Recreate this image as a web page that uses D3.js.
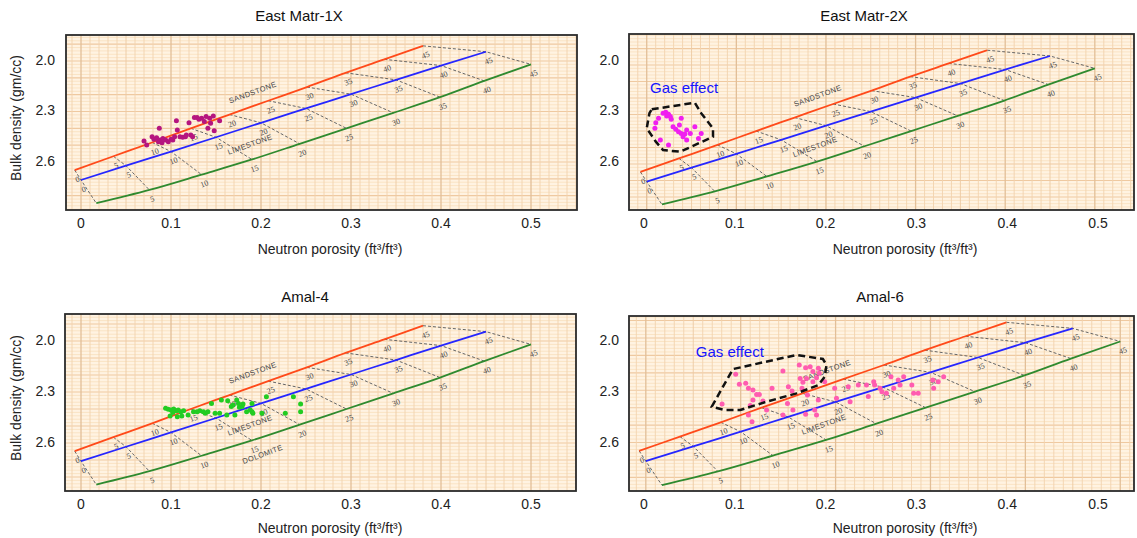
<!DOCTYPE html>
<html><head><meta charset="utf-8">
<script src="https://cdn.jsdelivr.net/npm/d3@7"></script>
<style>body{margin:0;background:#fff;} svg{display:block;} text{font-family:"Liberation Sans",Arial,sans-serif;}</style>
</head><body>
<svg id="c" width="1137" height="538"></svg>
<script>
// ---------- data ----------
const titles = ["East Matr-1X", "East Matr-2X", "Amal-4", "Amal-6"];
const xTicks = [0, 0.1, 0.2, 0.3, 0.4, 0.5];
const yTicks = [2.0, 2.3, 2.6];
const xTitle = "Neutron porosity (ft³/ft³)";
const yTitle = "Bulk density (gm/cc)";
const porosity = [0, 5, 10, 15, 20, 25, 30, 35, 40, 45];

// lithology lines of the crossplot chart (neutron, bulk density) at each porosity
const sandN   = [-0.007, 0.036, 0.079, 0.122, 0.165, 0.208, 0.251, 0.294, 0.337, 0.380];
const sandRho = [2.648, 2.566, 2.484, 2.400, 2.318, 2.236, 2.155, 2.070, 1.990, 1.910];
const limeN   = [0.000, 0.050, 0.100, 0.150, 0.200, 0.250, 0.300, 0.350, 0.400, 0.450];
const limeRho = [2.707, 2.622, 2.538, 2.453, 2.367, 2.282, 2.197, 2.112, 2.027, 1.945];
const doloN   = [0.017, 0.076, 0.134, 0.190, 0.243, 0.295, 0.347, 0.399, 0.448, 0.500];
const doloRho = [2.845, 2.766, 2.675, 2.585, 2.492, 2.400, 2.308, 2.215, 2.118, 2.020];
const lithoNames = ["SANDSTONE", "LIMESTONE", "DOLOMITE"];
const lithoNameN = [0.191, 0.188, 0.202];
const lithoNameRho = [2.19, 2.499, 2.67];

// well data (neutron porosity, bulk density)
const p1N = [0.070,0.073,0.079,0.081,0.084,0.087,0.088,0.090,0.091,0.094,0.097,0.100,0.102,0.104,0.106,0.107,0.110,0.113,0.116,0.117,0.120,0.122,0.124,0.126,0.129,0.131,0.134,0.137,0.139,0.141,0.143,0.144,0.147,0.148,0.154,0.086];
const p1D = [2.475,2.499,2.450,2.465,2.456,2.400,2.469,2.485,2.460,2.469,2.480,2.465,2.469,2.450,2.355,2.410,2.450,2.453,2.450,2.440,2.367,2.440,2.450,2.335,2.335,2.346,2.340,2.360,2.330,2.400,2.340,2.370,2.327,2.414,2.355,2.480];

const p2N = [0.021,0.024,0.027,0.025,0.016,0.013,0.030,0.041,0.012,0.032,0.035,0.039,0.038,0.041,0.043,0.045,0.047,0.051,0.056,0.063,0.060,0.018,0.047,0.027,0.029];
const p2D = [2.311,2.305,2.317,2.327,2.340,2.367,2.346,2.340,2.400,2.390,2.406,2.380,2.420,2.430,2.450,2.434,2.410,2.430,2.390,2.430,2.460,2.469,2.469,2.499,2.330];

const p3N = [0.094,0.097,0.100,0.103,0.106,0.108,0.102,0.111,0.114,0.099,0.107,0.112,0.119,0.125,0.129,0.132,0.136,0.138,0.141,0.145,0.149,0.154,0.156,0.162,0.163,0.167,0.169,0.171,0.173,0.175,0.176,0.179,0.180,0.184,0.188,0.190,0.190,0.191,0.201,0.206,0.236,0.227,0.244,0.244];
const p3D = [2.396,2.402,2.406,2.400,2.410,2.406,2.420,2.416,2.410,2.441,2.445,2.441,2.435,2.416,2.416,2.410,2.416,2.425,2.416,2.367,2.425,2.425,2.347,2.435,2.351,2.386,2.376,2.435,2.347,2.367,2.390,2.386,2.370,2.416,2.406,2.367,2.416,2.425,2.425,2.328,2.328,2.425,2.370,2.416];

const p4N = [0.086,0.101,0.105,0.112,0.115,0.120,0.124,0.127,0.120,0.117,0.115,0.119,0.131,0.135,0.141,0.153,0.159,0.163,0.158,0.153,0.164,0.171,0.172,0.174,0.175,0.178,0.179,0.180,0.183,0.186,0.186,0.190,0.192,0.193,0.178,0.188,0.190,0.192,0.199,0.210,0.212,0.225,0.227,0.236,0.245,0.247,0.253,0.254,0.260,0.262,0.267,0.272,0.275,0.280,0.282,0.286,0.295,0.297,0.302,0.318,0.319,0.324,0.330];
const p4D = [2.371,2.196,2.255,2.249,2.278,2.288,2.314,2.314,2.347,2.380,2.435,2.475,2.353,2.406,2.278,2.176,2.269,2.294,2.367,2.435,2.406,2.141,2.220,2.278,2.243,2.157,2.220,2.318,2.151,2.180,2.239,2.216,2.161,2.190,2.431,2.406,2.435,2.347,2.239,2.278,2.337,2.269,2.357,2.259,2.259,2.327,2.239,2.259,2.278,2.298,2.308,2.210,2.278,2.229,2.259,2.210,2.259,2.308,2.308,2.229,2.278,2.239,2.210];

// gas-effect outlines
const gas2N = [0.0085,0.056,0.063,0.076,0.076,0.040,0.021,0.013,0.003,0.006];
const gas2D = [2.287,2.248,2.310,2.400,2.450,2.539,2.529,2.479,2.400,2.310];
const gas4N = [0.0746,0.098,0.168,0.197,0.201,0.199,0.192,0.168,0.135,0.106,0.089];
const gas4D = [2.386,2.165,2.082,2.106,2.141,2.210,2.259,2.308,2.357,2.406,2.406];
const gasLabel = "Gas effect";

// ---------- layout / style ----------
const layout = [
  {frame:[66,35,577,210], xr:[81,531], yr:[61,162], ox:[0,1], oy:[2.71,1], tx:299, ty:17, xtx:330, xty:250, xtickY:224, ylabX:55, yTitleY:118,
   pts:[p1N,p1D], col:"#b5157f", names:[0,1]},
  {frame:[629,34,1134,210], xr:[644,1098], yr:[61,162], ox:[0.003,0.987], oy:[2.72,0.98], tx:864, ty:17, xtx:905, xty:250, xtickY:224, ylabX:619,
   pts:[p2N,p2D], col:"#f01ff0", names:[0,1], gas:[gas2N,gas2D], gasText:[0.0066,2.166]},
  {frame:[65,314,576,491], xr:[81,531], yr:[341,443], ox:[0,1], oy:[2.71,1], tx:305, ty:298, xtx:330, xty:529, xtickY:505, ylabX:55, yTitleY:398,
   pts:[p3N,p3D], col:"#22cc22", names:[0,1,2]},
  {frame:[629,316,1134,491], xr:[644,1098], yr:[341,443], ox:[0.002,1.045], oy:[2.71,1.025], tx:880, ty:298, xtx:905, xty:529, xtickY:505, ylabX:619,
   pts:[p4N,p4D], col:"#ff5cb0", names:[0,1], gas:[gas4N,gas4D], gasText:[0.057,2.07]}
];

const svg = d3.select("#c");
const ANG = -20;

layout.forEach((L, i) => {
  const [fx0, fy0, fx1, fy1] = L.frame;
  const x = d3.scaleLinear().domain([0, 0.5]).range(L.xr);
  const y = d3.scaleLinear().domain([2.0, 2.6]).range(L.yr);
  // chart-overlay scales (the printed chart may be slightly stretched vs. axes)
  const [a, b] = L.ox;
  const ox = d3.scaleLinear().domain([(0 - a) / b, (0.5 - a) / b]).range(L.xr);
  const [c, k] = L.oy;
  const oy = d3.scaleLinear().domain([2.71 + (2.0 - c) / k, 2.71 + (2.6 - c) / k]).range(L.yr);

  const g = svg.append("g");
  const clipId = "clip" + i;
  g.append("clipPath").attr("id", clipId).append("rect")
    .attr("x", fx0).attr("y", fy0).attr("width", fx1 - fx0).attr("height", fy1 - fy0);
  const pg = g.append("g").attr("clip-path", `url(#${clipId})`);

  pg.append("rect").attr("x", fx0).attr("y", fy0).attr("width", fx1 - fx0).attr("height", fy1 - fy0)
    .attr("fill", "#fff3e2");

  // grid
  d3.range(170, 301, 2).forEach(v => {
    const r = v / 100, major = v % 10 === 0;
    pg.append("line").attr("x1", fx0).attr("x2", fx1).attr("y1", oy(r)).attr("y2", oy(r))
      .attr("stroke", major ? "#efc9a0" : "#f8dcb8").attr("stroke-width", major ? 1.1 : 0.7);
  });
  d3.range(-5, 61, 1).forEach(v => {
    const n = v / 100, major = v % 10 === 0, mid = v % 5 === 0;
    pg.append("line").attr("y1", fy0).attr("y2", fy1).attr("x1", ox(n)).attr("x2", ox(n))
      .attr("stroke", major ? "#e2bf98" : (mid ? "#eccaa3" : "#f2d3ae")).attr("stroke-width", major ? 1.3 : 0.9);
  });

  // porosity connectors
  const line = d3.line().x(d => ox(d[0])).y(d => oy(d[1]));
  porosity.forEach((p, j) => {
    pg.append("path").attr("d", line([[sandN[j], sandRho[j]], [limeN[j], limeRho[j]], [doloN[j], doloRho[j]]]))
      .attr("fill", "none").attr("stroke", "#666").attr("stroke-width", 1).attr("stroke-dasharray", "3,2");
  });

  // lithology lines
  const lith = [[sandN, sandRho, "#ff4a1a"], [limeN, limeRho, "#2626ff"], [doloN, doloRho, "#2f8a2f"]];
  lith.forEach(([N, R, col]) => {
    pg.append("path").attr("d", d3.line().curve(d3.curveMonotoneX).x(d => ox(d[0])).y(d => oy(d[1]))(N.map((n, j) => [n, R[j]])))
      .attr("fill", "none").attr("stroke", col).attr("stroke-width", 1.8);
    N.forEach((n, j) => {
      const px = ox(n) + 3, py = oy(R[j]) + 10;
      pg.append("text").attr("x", px).attr("y", py).text(porosity[j])
        .attr("text-anchor", "middle").attr("dominant-baseline", "middle")
        .attr("transform", `rotate(${ANG},${px},${py})`)
        .style("font-family", "'Liberation Serif',serif").style("font-size", "8px").attr("fill", "#4a4a4a");
    });
  });

  // lithology names
  L.names.forEach(m => {
    const px = ox(lithoNameN[m]), py = oy(lithoNameRho[m]);
    pg.append("text").attr("x", px).attr("y", py).text(lithoNames[m])
      .attr("text-anchor", "middle").attr("dominant-baseline", "middle")
      .attr("transform", `rotate(${ANG},${px},${py})`)
      .style("font-size", "7.5px").style("letter-spacing", "0.4px").attr("fill", "#4a4a4a");
  });

  // data points
  const [PN, PD] = L.pts;
  pg.selectAll("circle.pt").data(PN.map((n, j) => [n, PD[j]])).enter().append("circle")
    .attr("cx", d => x(d[0])).attr("cy", d => y(d[1])).attr("r", 2.5).attr("fill", L.col);

  // gas effect outline
  if (L.gas) {
    const [GN, GD] = L.gas;
    pg.append("path").attr("d", d3.line().curve(d3.curveLinearClosed).x(d => x(d[0])).y(d => y(d[1]))(GN.map((n, j) => [n, GD[j]])))
      .attr("fill", "none").attr("stroke", "#111").attr("stroke-width", 2.5).attr("stroke-dasharray", "7,4");
    pg.append("text").attr("x", x(L.gasText[0])).attr("y", y(L.gasText[1])).text(gasLabel)
      .attr("dominant-baseline", "middle").style("font-size", "15px").attr("fill", "#1414ff");
  }

  // frame
  g.append("rect").attr("x", fx0).attr("y", fy0).attr("width", fx1 - fx0).attr("height", fy1 - fy0)
    .attr("fill", "none").attr("stroke", "#2b2b2b").attr("stroke-width", 1.8);

  // ticks
  xTicks.forEach(t => {
    g.append("text").attr("x", x(t)).attr("y", L.xtickY).text(t === 0 ? "0" : t.toFixed(1))
      .attr("text-anchor", "middle").attr("dominant-baseline", "middle").style("font-size", "14px").attr("fill", "#222");
  });
  yTicks.forEach(t => {
    g.append("text").attr("x", L.ylabX).attr("y", y(t)).text(t.toFixed(1))
      .attr("text-anchor", "end").attr("dominant-baseline", "middle").style("font-size", "14px").attr("fill", "#222");
  });

  // titles
  g.append("text").attr("x", L.tx).attr("y", L.ty).text(titles[i])
    .attr("text-anchor", "middle").attr("dominant-baseline", "middle").style("font-size", "15px").attr("fill", "#111");
  g.append("text").attr("x", L.xtx).attr("y", L.xty).text(xTitle)
    .attr("text-anchor", "middle").attr("dominant-baseline", "middle").style("font-size", "14px").attr("fill", "#222");
  if (L.yTitleY) {
    g.append("text").attr("transform", `translate(17,${L.yTitleY}) rotate(-90)`).text(yTitle)
      .attr("text-anchor", "middle").attr("dominant-baseline", "middle").style("font-size", "14px").attr("fill", "#222");
  }
});
</script>
</body></html>
